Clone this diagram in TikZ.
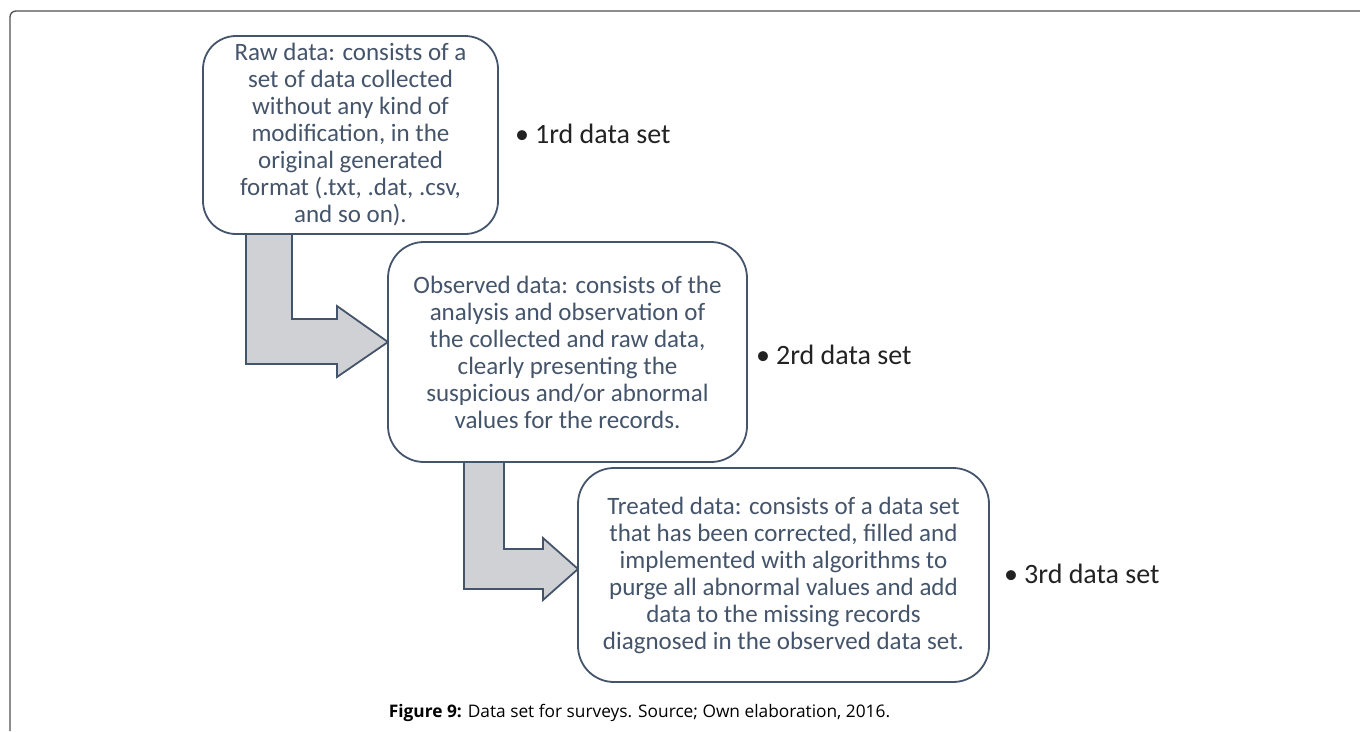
\documentclass[tikz,border=0pt]{standalone}
\usepackage{fontspec}
\setmainfont{Carlito}
\newfontfamily\capfont{Open Sans}
\definecolor{slate}{HTML}{44546A}
\definecolor{arrowfill}{HTML}{D0D1D5}
\definecolor{framegray}{HTML}{505050}
\definecolor{labeltext}{HTML}{222222}
\begin{document}
\begin{tikzpicture}[x=1pt,y=-1pt,
  box/.style={draw=slate, line width=1.8pt, fill=white, align=center, inner sep=0pt,
    text=slate, font=\fontsize{25}{27}\selectfont},
  blockarrow/.style={draw=slate, line width=1.8pt, fill=arrowfill, line join=miter},
  label/.style={anchor=base west, inner sep=0pt, text=labeltext, font=\fontsize{28}{30}\selectfont},
  frame/.style={draw=framegray, line width=1.3pt}]
\useasboundingbox (0,0) rectangle (1360,731);
\draw[frame, rounded corners=6pt] (10,731) -- (10,11) -- (1360,11);

% block arrows (drawn first, boxes overlay their ends)
\draw[blockarrow] (246,234) -- (292,234) -- (292,319) -- (337,319) -- (337,306) -- (388,342)
  -- (337,377) -- (337,364) -- (246,364) -- cycle;
\draw[blockarrow] (464,462) -- (504,462) -- (504,549) -- (543,549) -- (543,538) -- (578,569)
  -- (543,600) -- (543,589) -- (464,589) -- cycle;

\node[box, rounded corners=33pt, minimum width=295pt, minimum height=198pt] (b1) at (350.5,135)
 {Raw data: consists of a\\ set of data collected\\ without any kind of\\ modification, in the\\ original generated\\ format (.txt, .dat, .csv,\\ and so on).};
\node[box, rounded corners=36pt, minimum width=359pt, minimum height=220pt] (b2) at (567.5,352)
 {Observed data: consists of the\\ analysis and observation of\\ the collected and raw data,\\ clearly presenting the\\ suspicious and/or abnormal\\ values for the records.};
\node[box, rounded corners=36pt, minimum width=411pt, minimum height=214pt] (b3) at (783.5,575)
 {Treated data: consists of a data set\\ that has been corrected, filled and\\ implemented with algorithms to\\ purge all abnormal values and add\\ data to the missing records\\ diagnosed in the observed data set.};

\node[label] (l1) at (515,143) {•\hspace{6pt}1rd data set};
\node[label] (l2) at (756,364) {•\hspace{6pt}2rd data set};
\node[label] (l3) at (1004,583) {•\hspace{6pt}3rd data set};

\node[anchor=base, inner sep=0pt, font=\capfont\fontsize{17.3}{20}\selectfont] (cap) at (639.5,717)
 {\textbf{Figure 9:} Data set for surveys. Source; Own elaboration, 2016.};
\end{tikzpicture}
\end{document}
